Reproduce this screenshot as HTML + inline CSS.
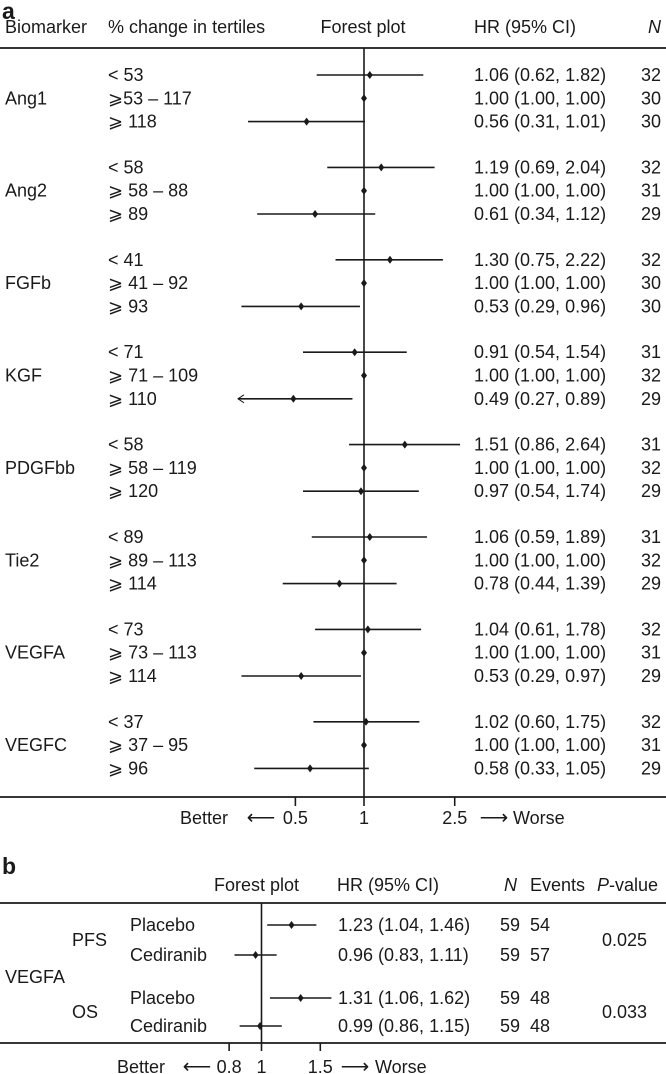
<!DOCTYPE html>
<html><head><meta charset="utf-8"><style>
html,body{margin:0;padding:0;background:#fff;}
svg{display:block;font-family:"Liberation Sans",Arial,sans-serif;}
text{fill:#1a1a1a;}
</style></head><body>
<svg id="c" width="666" height="1074" viewBox="0 0 666 1074"></svg>
<script>
// ---- Panel a data ----
const biomarkers = ["Ang1","Ang2","FGFb","KGF","PDGFbb","Tie2","VEGFA","VEGFC"];
const tertileLabels = [
 ["< 53","\u2A7E53  \u2013  117","\u2A7E 118"],
 ["< 58","\u2A7E 58 \u2013 88","\u2A7E 89"],
 ["< 41","\u2A7E 41 \u2013 92","\u2A7E 93"],
 ["< 71","\u2A7E 71 \u2013 109","\u2A7E 110"],
 ["< 58","\u2A7E 58 \u2013 119","\u2A7E 120"],
 ["< 89","\u2A7E 89 \u2013 113","\u2A7E 114"],
 ["< 73","\u2A7E 73 \u2013 113","\u2A7E 114"],
 ["< 37","\u2A7E 37 \u2013 95","\u2A7E 96"]];
const hrA = [[1.06,1.00,0.56],[1.19,1.00,0.61],[1.30,1.00,0.53],[0.91,1.00,0.49],[1.51,1.00,0.97],[1.06,1.00,0.78],[1.04,1.00,0.53],[1.02,1.00,0.58]];
const loA = [[0.62,1.00,0.31],[0.69,1.00,0.34],[0.75,1.00,0.29],[0.54,1.00,0.27],[0.86,1.00,0.54],[0.59,1.00,0.44],[0.61,1.00,0.29],[0.60,1.00,0.33]];
const hiA = [[1.82,1.00,1.01],[2.04,1.00,1.12],[2.22,1.00,0.96],[1.54,1.00,0.89],[2.64,1.00,1.74],[1.89,1.00,1.39],[1.78,1.00,0.97],[1.75,1.00,1.05]];
const nA = [[32,30,30],[32,31,29],[32,30,30],[31,32,29],[31,32,29],[31,32,29],[32,31,29],[32,31,29]];
const ticksA = [0.5,1,2.5];
const clipMinA = 0.28;
// ---- Panel b data ----
const endpointsB = ["PFS","OS"];
const armsB = ["Placebo","Cediranib"];
const hrB = [[1.23,0.96],[1.31,0.99]];
const loB = [[1.04,0.83],[1.06,0.86]];
const hiB = [[1.46,1.11],[1.62,1.15]];
const nB = [[59,59],[59,59]];
const eventsB = [[54,57],[48,48]];
const pB = ["0.025","0.033"];
const ticksB = [0.8,1,1.5];

const svg=document.getElementById('c');
const NS="http://www.w3.org/2000/svg";
function mk(tag,attrs,txt,name){const e=document.createElementNS(NS,tag);for(const k in attrs)e.setAttribute(k,attrs[k]);if(txt!==undefined)e.textContent=txt;


svg.appendChild(e);return e;}
function t(x,y,s,name,o){o=o||{};const a={x:x,y:y,'font-size':o.fs||18,'dominant-baseline':'central'};if(o.anchor)a['text-anchor']=o.anchor;if(o.w)a['font-weight']=o.w;if(o.st)a['font-style']=o.st;return mk('text',a,s,name);}
function ln(x1,y1,x2,y2,name,w){return mk('line',{x1:x1,y1:y1,x2:x2,y2:y2,stroke:'#1a1a1a','stroke-width':w||1.6},undefined,name);}
function dia(x,y,name){return mk('path',{d:`M${x} ${y-4}L${x+3} ${y}L${x} ${y+4}L${x-3} ${y}Z`,fill:'#1a1a1a'},undefined,name);}
const fmt=v=>v.toFixed(2);

// Panel a
const xA=v=>364+99*Math.log(v);
const yA=(g,r)=>75+g*92.4+r*23.3;
t(2,11,"a","panel-a-label",{fs:23,w:'bold'});
t(5,27,"Biomarker","header-biomarker");
t(108,27,"% change in tertiles","header-tertiles");
t(363,27,"Forest plot","header-forest-plot",{anchor:'middle'});
t(474,27,"HR (95% CI)","header-hr");
t(661,27,"N","header-n",{st:'italic',anchor:'end'});
ln(0,48,666,48,"header-rule-a",1.8);
ln(xA(1),48,xA(1),797,"reference-line-a",1.6);
ln(0,797,666,797,"axis-line-a",1.8);
biomarkers.forEach((b,g)=>{
  t(5,yA(g,1),b,"biomarker-label-"+b.toLowerCase());
  for(let r=0;r<3;r++){
    const y=yA(g,r);
    t(108,y,tertileLabels[g][r],"tertile-label");
    let lo=loA[g][r];const clipped=lo<clipMinA;if(clipped)lo=clipMinA;
    if(hiA[g][r]!==lo) ln(xA(lo),y,xA(hiA[g][r]),y,"ci-line-"+b.toLowerCase(),1.6);
    if(clipped){mk('path',{d:`M${xA(lo)+6} ${y-4}L${xA(lo)} ${y}L${xA(lo)+6} ${y+4}`,fill:'none',stroke:'#1a1a1a','stroke-width':1},undefined,"clip-arrow");}
    dia(xA(hrA[g][r]),y,"hr-point-"+b.toLowerCase());
    t(474,y,`${fmt(hrA[g][r])} (${fmt(loA[g][r])}, ${fmt(hiA[g][r])})`,"hr-value");
    t(661,y,String(nA[g][r]),"n-value",{anchor:'end'});
  }
});
ticksA.forEach(v=>{ln(xA(v),797,xA(v),806,"tick-a");t(xA(v),818,String(v),"tick-label-a",{anchor:'middle'});});
t(180,818,"Better","better-label-a");
t(261,818,"\u27F5","left-arrow-a",{anchor:'middle',fs:20});
t(494,818,"\u27F6","right-arrow-a",{anchor:'middle',fs:20});
t(513,818,"Worse","worse-label-a");

// Panel b
const xB=v=>261.5+145*Math.log(v);
const yB=[[925,955],[998,1026]];
t(2,866,"b","panel-b-label",{fs:23,w:'bold'});
t(214,885,"Forest plot","header-forest-plot-b");
t(337,885,"HR (95% CI)","header-hr-b");
t(504,885,"N","header-n-b",{st:'italic'});
t(530,885,"Events","header-events");
t(597,885,"P","header-p",{st:'italic'});
t(609,885,"-value","header-p-rest");
ln(0,903,666,903,"header-rule-b",1.8);
ln(xB(1),903,xB(1),1043,"reference-line-b",1.6);
ln(0,1043,666,1043,"axis-line-b",1.8);
t(5,977,"VEGFA","vegfa-label-b");
endpointsB.forEach((ep,i)=>{
  t(72,(yB[i][0]+yB[i][1])/2,ep,"endpoint-label-"+ep.toLowerCase());
  t(602,(yB[i][0]+yB[i][1])/2,pB[i],"p-value");
  armsB.forEach((arm,j)=>{
    const y=yB[i][j];
    t(130,y,arm,"arm-label-"+arm.toLowerCase());
    ln(xB(loB[i][j]),y,xB(hiB[i][j]),y,"ci-line-b",1.6);
    dia(xB(hrB[i][j]),y,"hr-point-b");
    t(338,y,`${fmt(hrB[i][j])} (${fmt(loB[i][j])}, ${fmt(hiB[i][j])})`,"hr-value-b");
    t(500,y,String(nB[i][j]),"n-value-b");
    t(530,y,String(eventsB[i][j]),"events-value");
  });
});
ticksB.forEach(v=>{ln(xB(v),1043,xB(v),1051,"tick-b");t(xB(v),1067,String(v),"tick-label-b",{anchor:'middle'});});
t(117,1067,"Better","better-label-b");
t(197,1067,"\u27F5","left-arrow-b",{anchor:'middle',fs:20});
t(355,1067,"\u27F6","right-arrow-b",{anchor:'middle',fs:20});
t(375,1067,"Worse","worse-label-b");
</script>
</body></html>
